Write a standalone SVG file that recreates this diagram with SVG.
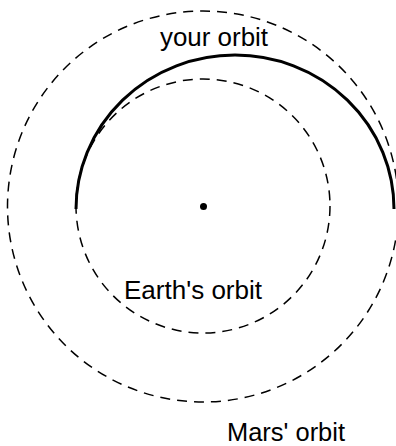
<svg xmlns="http://www.w3.org/2000/svg" width="396" height="446" viewBox="0 0 396 446">
<style>
.orbit{fill:none;stroke:#000;stroke-width:1.5;stroke-dasharray:10 7}
.transfer{fill:none;stroke:#000;stroke-width:3}
text{font-family:"Liberation Sans",Arial,sans-serif;font-size:25px;fill:#000}
</style>
<rect width="396" height="446" fill="#fff"/>
<g id="mars-orbit"><circle class="orbit" cx="203" cy="206.5" r="195.5"/></g>
<g id="earth-orbit"><circle class="orbit" cx="203" cy="206" r="127"/></g>
<g id="sun"><circle cx="203.5" cy="206.5" r="3.5" fill="#000"/></g>
<g id="connectors"><path class="transfer" d="M76,209 A159,154 0 0 1 394,209"/></g>
<g id="labels">
<text x="160" y="46" textLength="108" lengthAdjust="spacingAndGlyphs">your orbit</text>
<text x="124" y="299" textLength="138" lengthAdjust="spacingAndGlyphs">Earth's orbit</text>
<text x="227" y="441" textLength="118" lengthAdjust="spacingAndGlyphs">Mars' orbit</text>
</g>
</svg>
